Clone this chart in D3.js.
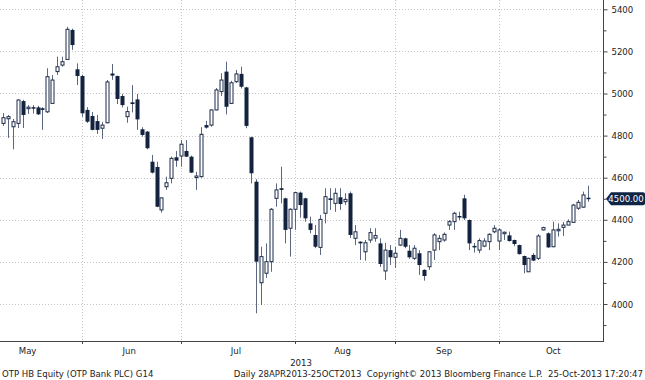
<!DOCTYPE html>
<html><head><meta charset="utf-8">
<script src="https://cdn.jsdelivr.net/npm/d3@7"></script>
<style>body{margin:0;background:#fff}svg{display:block}text{white-space:pre}</style>
</head><body><svg id="c" width="645" height="380"></svg>
<script>
// ---- data (daily OHLC, first visible session 9 May 2013 to 25 Oct 2013) ----
const opens = [4858,4880,4842,4858,4964,4930,4935,4934,4930,4913,4953,5104,5135,5162,5302,5115,
 5083,4922,4893,4869,4835,4861,5095,5083,4988,4890,4958,4972,4830,4819,4676,4651,4447,4557,4597,4697,
 4703,4727,4700,4603,4605,4850,4850,4922,5009,5104,4953,5056,5093,5029,4792,4581,4101,4146,4201,4502,4550,4502,4360,
 4450,4529,4502,4383,4328,4269,4431,4502,4478,4507,4486,4526,4312,4296,4248,4304,4313,4288,4157,4256,
 4222,4280,4312,4253,4217,4241,4162,4177,4256,4296,4304,4375,4391,4418,4502,4399,4276,4256,4275,4296,4343,
 4299,4336,4326,4304,4280,4228,4153,4233,4217,4352,4336,4272,4350,4364,4375,4388,4455,4460,4505];
const highs = [4907,4898,4879,4972,4970,4945,4945,4941,4935,5120,5088,5175,5175,5317,5308,5143,
 5090,4935,4912,4898,4865,5064,5140,5085,4998,4937,5040,4998,4840,4822,4708,4676,4506,4605,4700,4727,
 4779,4779,4705,4628,4840,4870,4925,5026,5096,5151,5060,5112,5127,5032,4795,4593,4272,4288,4456,4573,4652,4505,4455,
 4534,4534,4505,4415,4375,4423,4550,4550,4550,4550,4526,4534,4375,4298,4304,4360,4360,4312,4291,4280,
 4271,4352,4315,4280,4280,4256,4165,4250,4336,4328,4340,4399,4438,4438,4519,4402,4290,4312,4313,4336,4375,
 4360,4344,4344,4306,4282,4230,4220,4242,4332,4367,4340,4391,4383,4390,4402,4475,4494,4534,4562];
const lows = [4846,4789,4735,4836,4836,4903,4905,4898,4827,4907,4950,5088,5127,5160,5207,5040,
 4890,4860,4825,4808,4784,4858,5065,4950,4934,4861,4910,4827,4795,4735,4620,4460,4434,4542,4573,4652,
 4652,4698,4622,4542,4600,4833,4842,4920,4988,4901,4950,5050,5024,4835,4573,3956,3995,4124,4153,4462,4478,4288,4225,
 4352,4410,4391,4336,4265,4233,4383,4447,4438,4447,4470,4314,4280,4209,4206,4290,4296,4176,4114,4185,
 4171,4275,4265,4215,4209,4138,4111,4162,4209,4256,4296,4352,4352,4399,4399,4256,4244,4241,4270,4256,4336,
 4256,4304,4297,4275,4235,4146,4152,4204,4209,4350,4267,4270,4320,4323,4375,4385,4447,4457,4486];
const closes = [4885,4890,4866,4969,4898,4935,4930,4901,4922,5080,5064,5127,5151,5305,5230,5083,
 4906,4866,4827,4827,4850,5055,5085,4974,4945,4914,4950,4877,4803,4740,4624,4462,4504,4576,4692,4681,
 4759,4700,4624,4608,4806,4838,4922,5017,5064,4937,5051,5093,5032,4846,4621,4201,4225,4201,4450,4542,4542,4352,4450,
 4529,4470,4407,4352,4272,4402,4510,4494,4526,4475,4497,4328,4343,4288,4291,4339,4325,4190,4256,4222,
 4241,4312,4272,4222,4265,4185,4133,4248,4328,4312,4331,4391,4431,4412,4407,4288,4269,4301,4299,4331,4360,
 4352,4341,4299,4285,4237,4185,4217,4206,4323,4363,4269,4352,4355,4375,4391,4470,4483,4518,4500];

const firstDate = "2013-05-09";
const holidays = ["2013-05-01","2013-05-20","2013-08-19","2013-08-20","2013-11-01"];
const monthKeys = ["2013-05","2013-06","2013-07","2013-08","2013-09","2013-10","2013-11"];
const monthLabels = ["May","Jun","Jul","Aug","Sep","Oct"];
const yMajorTicks = [4000,4200,4400,4600,4800,5000,5200,5400];
const yMinorTicks = [3900,4100,4300,4500,4700,4900,5100,5300];
const yearLabel = "2013";
const lastPriceLabel = "4500.00";
const footerLeft = "OTP HB Equity (OTP Bank PLC) G14";
const footerRight = "Daily 28APR2013-25OCT2013  Copyright\u00A9 2013 Bloomberg Finance L.P.  25-Oct-2013 17:20:47";

// ---- calendar ----
function tradingDays(start, end, hol){
  const out=[]; const d=new Date(start+"T00:00:00Z"); const e=new Date(end+"T00:00:00Z");
  while(d<=e){ const wd=d.getUTCDay(); const s=d.toISOString().slice(0,10);
    if(wd>0 && wd<6 && !hol.includes(s)) out.push(s);
    d.setUTCDate(d.getUTCDate()+1); }
  return out;
}
const calendar = tradingDays("2013-04-29","2013-11-29",holidays);
const i0 = calendar.indexOf(firstDate);
const n = closes.length;
const data = d3.range(n).map(k=>({i:i0+k, date:calendar[i0+k], o:opens[k], h:highs[k], l:lows[k], c:closes[k]}));
const monthStart = monthKeys.map(m=>calendar.findIndex(s=>s.startsWith(m)));

// ---- layout ----
const plotR = 603, plotB = 341;
const svg = d3.select("#c");
const x = d3.scaleLinear().domain([i0, i0+n-1]).range([2.8, 588]);
const y = d3.scaleLinear().domain([4000,5400]).range([304,9.3]);
const FONT = "'DejaVu Sans Condensed','DejaVu Sans',sans-serif";

svg.append("defs").append("clipPath").attr("id","clip")
  .append("rect").attr("x",0).attr("y",0).attr("width",plotR).attr("height",plotB);

// grid
const grid = svg.append("g").attr("stroke","#c4c4c4").attr("stroke-dasharray","1,2").attr("stroke-width",1);
grid.selectAll("line.h").data(yMajorTicks).join("line")
  .attr("x1",0).attr("x2",plotR).attr("y1",d=>Math.round(y(d))+0.5).attr("y2",d=>Math.round(y(d))+0.5);
const gridMonths = monthStart.slice(0,-1).filter(i=>x(i)>0 && x(i)<plotR);
grid.selectAll("line.v").data(gridMonths).join("line")
  .attr("y1",0).attr("y2",plotB).attr("x1",d=>Math.round(x(d))+0.5).attr("x2",d=>Math.round(x(d))+0.5);

// candles
const cg = svg.append("g").attr("clip-path","url(#clip)");
const cx = d=>Math.round(x(d.i));
cg.selectAll("line.wick").data(data).join("line")
  .attr("x1",d=>cx(d)+0.5).attr("x2",d=>cx(d)+0.5)
  .attr("y1",d=>y(d.h)).attr("y2",d=>y(d.l))
  .attr("stroke","#5b6880").attr("stroke-width",1);
cg.selectAll("rect.body").data(data).join("rect")
  .attr("x",d=> d.c>=d.o ? cx(d)-1 : cx(d)-1.5)
  .attr("width",d=> d.c>=d.o ? 3 : 4)
  .attr("y",d=>y(Math.max(d.o,d.c)))
  .attr("height",d=>Math.max(1.5, Math.abs(y(d.o)-y(d.c))))
  .attr("fill",d=> d.c>=d.o ? "#ffffff" : "#13223f")
  .attr("stroke",d=> d.c>=d.o ? "#1c2b48" : "none")
  .attr("stroke-width",1);

// right axis
svg.append("line").attr("x1",plotR+0.5).attr("x2",plotR+0.5).attr("y1",0).attr("y2",plotB)
  .attr("stroke","#444").attr("stroke-width",1);
const yAx = svg.append("g").attr("transform",`translate(${plotR+0.5},0)`)
  .call(d3.axisRight(y).tickValues(yMajorTicks).tickSize(4).tickPadding(4).tickFormat(d3.format("d")));
yAx.select(".domain").remove();
yAx.selectAll("line").attr("stroke","#444");
yAx.selectAll("text").attr("font-family",FONT).attr("font-size",9.5).attr("fill","#222");
const yMin = svg.append("g").attr("transform",`translate(${plotR+0.5},0)`)
  .call(d3.axisRight(y).tickValues(yMinorTicks).tickSize(3).tickFormat(""));
yMin.select(".domain").remove();
yMin.selectAll("line").attr("stroke","#444");

// last price tag
const ty = y(closes[n-1]);
svg.append("path")
  .attr("d",`M${plotR+3},${ty} L${plotR+8},${ty-6.5} L643,${ty-6.5} Q645,${ty-6.5} 645,${ty-4.5} L645,${ty+4.5} Q645,${ty+6.5} 643,${ty+6.5} L${plotR+8},${ty+6.5} Z`)
  .attr("fill","#102446");
svg.append("text").attr("x",626).attr("y",ty).attr("dy","0.35em").attr("text-anchor","middle")
  .attr("font-family",FONT).attr("font-size",9.5).attr("fill","#fff").text(lastPriceLabel);

// bottom axis
svg.append("line").attr("x1",0).attr("x2",plotR+1).attr("y1",plotB+0.5).attr("y2",plotB+0.5)
  .attr("stroke","#444");
svg.selectAll("line.mt").data(gridMonths).join("line")
  .attr("x1",d=>Math.round(x(d))+0.5).attr("x2",d=>Math.round(x(d))+0.5)
  .attr("y1",plotB).attr("y2",plotB+3).attr("stroke","#444");
const monthCenters = monthLabels.map((m,k)=>({m, c:x((monthStart[k]+monthStart[k+1]-1)/2)}));
svg.selectAll("text.month").data(monthCenters).join("text")
  .attr("x",d=>d.c).attr("y",plotB+13).attr("text-anchor","middle")
  .attr("font-family",FONT).attr("font-size",9.5).attr("fill","#222").text(d=>d.m);
svg.append("text").attr("x",301).attr("y",plotB+25).attr("text-anchor","middle")
  .attr("font-family",FONT).attr("font-size",9.5).attr("fill","#222").text(yearLabel);

// footer
svg.append("text").attr("x",2).attr("y",377)
  .attr("font-family",FONT).attr("font-size",9.5).attr("fill","#222").text(footerLeft);
svg.append("text").attr("x",643).attr("y",377).attr("text-anchor","end")
  .attr("font-family",FONT).attr("font-size",9.5).attr("fill","#222").text(footerRight);
</script></body></html>
